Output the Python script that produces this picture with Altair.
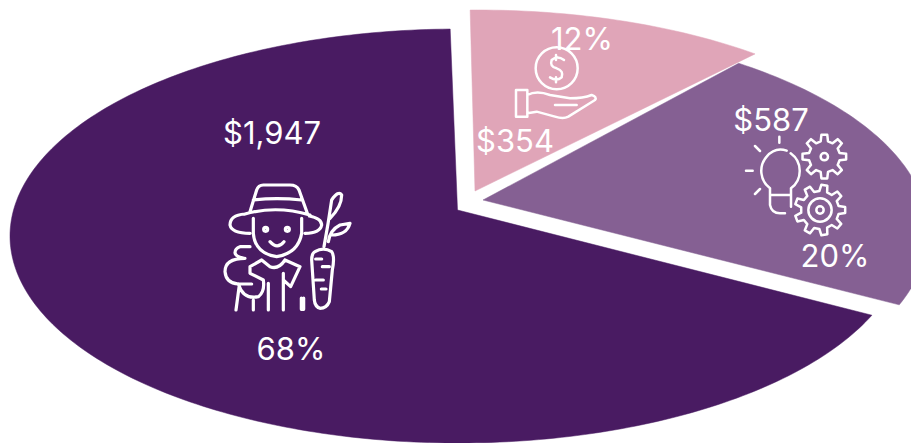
import math
import altair as alt
import pandas as pd

# Values shown on the chart
names = ["Farming", "Innovation", "Finance"]
dollars = ["$1,947", "$587", "$354"]
percents = ["68%", "20%", "12%"]
colors = ["#491B62", "#856093", "#E0A5B8"]

# Exploded, flattened pie geometry (picture pixels)
apex_x = [457.5, 483, 475]
apex_y = [210, 200, 191]
centre_x = [458, 478, 478]
centre_y = [236, 232, 217]
radius_x = [448, 450, 450]
start_deg = [112.5, 35.4, -1]
end_deg = [359, 110.6, 38]
RY = 207

dollar_x = [272, 771, 515]
dollar_y = [135, 122, 143]
percent_x = [291, 835, 582]
percent_y = [351, 258, 41]

W, H = 903, 435
X = alt.Scale(domain=[8, 911], range=[0, W], nice=False, zero=False)
Y = alt.Scale(domain=[8, 443], range=[0, H], nice=False, zero=False)


def wedge_table(k):
    rows = [{"x": apex_x[k], "y": apex_y[k], "i": 0}]
    n = int(end_deg[k] - start_deg[k])
    for j in range(n + 1):
        t = math.radians(start_deg[k] + (end_deg[k] - start_deg[k]) * j / n)
        rows.append({"x": centre_x[k] + radius_x[k] * math.sin(t),
                     "y": centre_y[k] - RY * math.cos(t), "i": j + 1})
    rows.append({"x": apex_x[k], "y": apex_y[k], "i": n + 2})
    return pd.DataFrame(rows)


def gear(cx, cy, ro, ri, teeth):
    step = 360 / teeth
    pts = []
    for k in range(teeth):
        a = k * step
        for off, r in ((-0.30, ri), (-0.17, ro), (0.17, ro), (0.30, ri)):
            th = math.radians(a + off * step)
            pts.append((cx + r * math.cos(th), cy + r * math.sin(th)))
    return "M" + " L".join(f"{x:.1f} {y:.1f}" for x, y in pts) + " Z "


def circle(cx, cy, r):
    return f"M{cx-r} {cy} A{r} {r} 0 1 1 {cx+r} {cy} A{r} {r} 0 1 1 {cx-r} {cy} Z "


# Icon outlines, in 3x units from the anchor point
farmer = (
    "M150 305 L170 240 Q175 225 190 225 L270 225 Q290 225 297 240 L322 310 "
    "M160 270 Q230 262 305 270 "
    "M135 312 Q230 285 330 315 "
    "M135 312 Q90 315 90 345 Q95 370 150 370 "
    "M328 318 Q365 325 365 345 Q360 370 315 370 "
    "M160 325 L160 370 Q165 430 230 440 Q295 430 305 370 L305 325 "
    + circle(197, 358, 6) + circle(262, 358, 6) +
    "M210 395 Q232 420 252 395 "
    "M150 410 L120 410 Q105 415 105 428 Q107 440 130 445 "
    "M135 445 Q75 445 75 485 Q78 520 115 522 L155 522 "
    "M115 522 Q130 570 175 560 Q195 545 190 510 L150 490 L150 470 L185 450 L210 470 Q235 480 255 450 "
    "M255 450 L300 470 L272 530 L250 510 "
    "M118 525 L108 600 M160 570 L160 600 M205 520 L205 600 M250 490 L250 600 "
    "M304 564 L304 598 M311 564 L311 598 "
    "M345 425 Q370 410 395 425 Q405 440 397 480 L388 575 Q380 595 360 595 Q345 590 343 570 L335 450 Q335 430 345 425 Z "
    "M372 410 Q385 340 395 270 Q415 240 425 255 Q425 290 390 325 "
    "M385 395 Q390 360 420 345 L450 340 Q440 375 395 375 "
    "M347 447 L365 447 M367 470 L388 470 M347 510 L370 510 M364 537 L378 537"
)
hand = (
    circle(350, 205, 63) +
    "M372 180 Q352 165 335 180 Q328 200 350 205 Q372 212 365 232 Q350 245 330 232 "
    "M348 165 L348 180 M348 232 L348 247 "
    "M228 270 L262 270 L262 350 L228 350 Z "
    "M262 285 Q290 270 330 285 L390 295 Q430 295 455 285 Q472 290 465 300 L385 350 Q370 358 345 350 L290 335 L262 340 "
    "M345 315 L410 315"
)
bulb = (
    "M150 295 A65 65 0 0 1 140 200 Q165 170 200 182 "
    "M212 190 A65 65 0 0 1 213 295 "
    "M150 295 L150 345 Q155 370 180 370 L195 370 "
    "M150 315 L213 315 M213 295 L213 350 "
    "M178 140 L178 158 M105 168 L120 183 M78 242 L98 242 M105 312 L120 297 "
    + gear(313, 200, 66, 47, 8) + circle(313, 200, 11)
    + gear(300, 360, 76, 57, 9) + circle(300, 360, 35) + circle(300, 360, 11)
)
icon_paths = [farmer, bulb, hand]
icon_x = [200, 720, 440]
icon_y = [110, 90, 0]
icon_width = [3.2, 2.5, 2.5]

layers = []
for k in range(3):
    layers.append(
        alt.Chart(wedge_table(k))
        .mark_line(fill=colors[k], stroke=colors[k], strokeWidth=0.5, clip=True)
        .encode(
            x=alt.X("x:Q", scale=X, axis=None),
            y=alt.Y("y:Q", scale=Y, axis=None),
            order=alt.Order("i:Q"),
        )
    )

for k in range(3):
    layers.append(
        alt.Chart(pd.DataFrame({"x": [icon_x[k]], "y": [icon_y[k]]}))
        .mark_point(shape=icon_paths[k], filled=False, stroke="white", opacity=1,
                    strokeWidth=icon_width[k], strokeCap="round", strokeJoin="round",
                    size=4 / 9)
        .encode(x=alt.X("x:Q", scale=X, axis=None), y=alt.Y("y:Q", scale=Y, axis=None))
    )

labels = pd.DataFrame({
    "x": dollar_x + percent_x,
    "y": dollar_y + percent_y,
    "t": dollars + percents,
})
layers.append(
    alt.Chart(labels)
    .mark_text(font="Inter", fontSize=31, color="white", align="center", baseline="middle")
    .encode(
        x=alt.X("x:Q", scale=X, axis=None),
        y=alt.Y("y:Q", scale=Y, axis=None),
        text="t:N",
    )
)

chart = (
    alt.layer(*layers)
    .properties(width=W, height=H, padding=0, autosize=alt.AutoSizeParams(type="none"), background="white")
    .configure_view(stroke=None)
)
chart.save("out.html", embed_options={"renderer": "svg", "actions": False})
